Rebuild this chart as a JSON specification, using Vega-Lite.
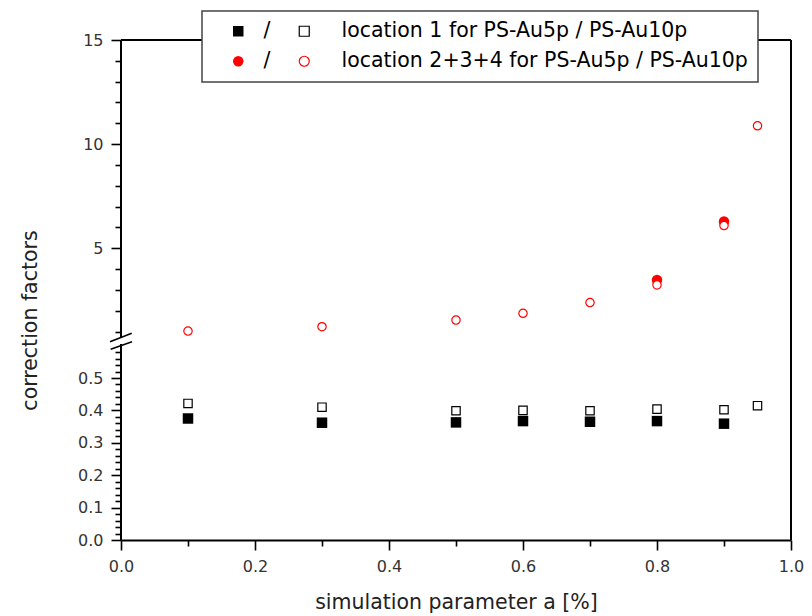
{
  "$schema": "https://vega.github.io/schema/vega-lite/v6.json",
  "width": 670,
  "height": 500,
  "autosize": {"type": "none"},
  "padding": {"left": 121, "top": 40, "right": 21, "bottom": 76},
  "background": "white",
  "config": {
    "view": {"stroke": null},
    "font": "DejaVu Sans",
    "legend": {"strokeWidth": 1.5}
  },
  "data": {
    "values": [
      {"a": 0.1, "cf": 0.375, "loc": "1", "sample": "5p", "label": "location 1 for PS-Au5p / PS-Au10p"},
      {"a": 0.3, "cf": 0.362, "loc": "1", "sample": "5p", "label": "location 1 for PS-Au5p / PS-Au10p"},
      {"a": 0.5, "cf": 0.363, "loc": "1", "sample": "5p", "label": "location 1 for PS-Au5p / PS-Au10p"},
      {"a": 0.6, "cf": 0.367, "loc": "1", "sample": "5p", "label": "location 1 for PS-Au5p / PS-Au10p"},
      {"a": 0.7, "cf": 0.365, "loc": "1", "sample": "5p", "label": "location 1 for PS-Au5p / PS-Au10p"},
      {"a": 0.8, "cf": 0.367, "loc": "1", "sample": "5p", "label": "location 1 for PS-Au5p / PS-Au10p"},
      {"a": 0.9, "cf": 0.359, "loc": "1", "sample": "5p", "label": "location 1 for PS-Au5p / PS-Au10p"},
      {"a": 0.8, "cf": 3.47, "loc": "2+3+4", "sample": "5p", "label": "location 2+3+4 for PS-Au5p / PS-Au10p"},
      {"a": 0.9, "cf": 6.28, "loc": "2+3+4", "sample": "5p", "label": "location 2+3+4 for PS-Au5p / PS-Au10p"},
      {"a": 0.1, "cf": 0.4215, "loc": "1", "sample": "10p", "label": "location 1 for PS-Au5p / PS-Au10p"},
      {"a": 0.3, "cf": 0.41, "loc": "1", "sample": "10p", "label": "location 1 for PS-Au5p / PS-Au10p"},
      {"a": 0.5, "cf": 0.399, "loc": "1", "sample": "10p", "label": "location 1 for PS-Au5p / PS-Au10p"},
      {"a": 0.6, "cf": 0.4, "loc": "1", "sample": "10p", "label": "location 1 for PS-Au5p / PS-Au10p"},
      {"a": 0.7, "cf": 0.399, "loc": "1", "sample": "10p", "label": "location 1 for PS-Au5p / PS-Au10p"},
      {"a": 0.8, "cf": 0.404, "loc": "1", "sample": "10p", "label": "location 1 for PS-Au5p / PS-Au10p"},
      {"a": 0.9, "cf": 0.402, "loc": "1", "sample": "10p", "label": "location 1 for PS-Au5p / PS-Au10p"},
      {"a": 0.95, "cf": 0.4145, "loc": "1", "sample": "10p", "label": "location 1 for PS-Au5p / PS-Au10p"},
      {"a": 0.1, "cf": 1.02, "loc": "2+3+4", "sample": "10p", "label": "location 2+3+4 for PS-Au5p / PS-Au10p"},
      {"a": 0.3, "cf": 1.23, "loc": "2+3+4", "sample": "10p", "label": "location 2+3+4 for PS-Au5p / PS-Au10p"},
      {"a": 0.5, "cf": 1.55, "loc": "2+3+4", "sample": "10p", "label": "location 2+3+4 for PS-Au5p / PS-Au10p"},
      {"a": 0.6, "cf": 1.875, "loc": "2+3+4", "sample": "10p", "label": "location 2+3+4 for PS-Au5p / PS-Au10p"},
      {"a": 0.7, "cf": 2.39, "loc": "2+3+4", "sample": "10p", "label": "location 2+3+4 for PS-Au5p / PS-Au10p"},
      {"a": 0.8, "cf": 3.24, "loc": "2+3+4", "sample": "10p", "label": "location 2+3+4 for PS-Au5p / PS-Au10p"},
      {"a": 0.9, "cf": 6.09, "loc": "2+3+4", "sample": "10p", "label": "location 2+3+4 for PS-Au5p / PS-Au10p"},
      {"a": 0.95, "cf": 10.88, "loc": "2+3+4", "sample": "10p", "label": "location 2+3+4 for PS-Au5p / PS-Au10p"}
    ]
  },
  "resolve": {
    "scale": {"shape": "independent"},
    "legend": {"shape": "independent", "color": "independent", "stroke": "independent"}
  },
  "layer": [
    {
      "transform": [{"filter": "datum.sample == '5p'"}],
      "mark": {"type": "point", "filled": true, "opacity": 1, "size": 110},
      "encoding": {
        "x": {
          "field": "a", "type": "quantitative",
          "scale": {"domain": [0, 1], "nice": false, "zero": false},
          "axis": {
            "title": "simulation parameter a [%]",
            "values": [0, 0.1, 0.2, 0.3, 0.4, 0.5, 0.6, 0.7, 0.8, 0.9, 1.0],
            "tickCount": 200,
            "labelExpr": "abs(datum.value*5 - round(datum.value*5)) < 1e-6 ? format(datum.value, '.1f') : ''",
            "tickSize": {"condition": {"test": "abs(datum.value*5 - round(datum.value*5)) < 1e-6", "value": 10}, "value": 6},
            "grid": false,
            "labelFlush": false,
            "labelOverlap": false,
            "labelPadding": 8,
            "labelFont": "DejaVu Sans",
            "labelFontSize": 16,
            "labelColor": "#333333",
            "domainColor": "black",
            "domainWidth": 2,
            "tickColor": "black",
            "tickWidth": 1.6,
            "titleFont": "DejaVu Sans",
            "titleFontSize": 20.5,
            "titleFontWeight": "normal",
            "titleColor": "#222222",
            "titleBaseline": "alphabetic",
            "titleY": 68
          }
        },
        "y": {
          "field": "cf", "type": "quantitative",
          "scale": {"domain": [0, 0.6, 1, 15], "range": [500, 305.6, 291.5, 0], "nice": false, "zero": false},
          "axis": {
            "title": "correction factors",
            "values": [0, 0.02, 0.04, 0.06, 0.08, 0.1, 0.12, 0.14, 0.16, 0.18, 0.2, 0.22, 0.24, 0.26, 0.28, 0.3, 0.32, 0.34, 0.36, 0.38, 0.4, 0.42, 0.44, 0.46, 0.48, 0.5, 0.52, 0.54, 0.56, 0.58, 1, 2, 3, 4, 5, 6, 7, 8, 9, 10, 11, 12, 13, 14, 15],
            "tickCount": 200,
            "labelExpr": "datum.value < 0.55 && abs(datum.value*10 - round(datum.value*10)) < 1e-6 ? format(datum.value, '.1f') : ((datum.value == 5 || datum.value == 10 || datum.value == 15) ? format(datum.value, 'd') : '')",
            "tickSize": {"condition": {"test": "(datum.value < 0.55 && abs(datum.value*10 - round(datum.value*10)) < 1e-6) || datum.value == 5 || datum.value == 10 || datum.value == 15", "value": 10}, "value": 6},
            "domain": false,
            "grid": false,
            "labelFlush": false,
            "labelOverlap": false,
            "labelPadding": 8,
            "labelFont": "DejaVu Sans",
            "labelFontSize": 16,
            "labelColor": "#333333",
            "tickColor": "black",
            "tickWidth": 1.6,
            "titleFont": "DejaVu Sans",
            "titleFontSize": 20.5,
            "titleFontWeight": "normal",
            "titleColor": "#222222",
            "titleBaseline": "alphabetic",
            "titleX": -85,
            "titleY": 280
          }
        },
        "shape": {
          "field": "loc", "type": "nominal",
          "scale": {"domain": ["1", "2+3+4"], "range": ["square", "circle"]}
        },
        "color": {
          "field": "loc", "type": "nominal",
          "scale": {"domain": ["1", "2+3+4"], "range": ["black", "#ff0000"]},
          "legend": {
            "orient": "none",
            "legendX": 107,
            "legendY": -19,
            "title": null,
            "padding": 0,
            "fillColor": null,
            "strokeColor": null,
            "symbolSize": 110,
            "labelExpr": "'/'",
            "labelFont": "DejaVu Sans",
            "labelFontSize": 20.5,
            "labelOffset": 15,
            "rowPadding": 9,
            "zindex": 3,
            "encode": {
              "labels": {"update": {"fill": {"signal": "datum.value == '1' ? 'black' : '#ff0000'"}}}
            }
          }
        }
      }
    },
    {
      "transform": [{"filter": "datum.sample == '10p'"}],
      "mark": {"type": "point", "filled": true, "fill": "white", "strokeWidth": 1.2, "opacity": 1, "size": 70},
      "encoding": {
        "x": {"field": "a", "type": "quantitative"},
        "y": {"field": "cf", "type": "quantitative"},
        "shape": {
          "field": "label", "type": "nominal",
          "scale": {"domain": ["location 1 for PS-Au5p / PS-Au10p", "location 2+3+4 for PS-Au5p / PS-Au10p"], "range": ["square", "circle"]}
        },
        "stroke": {
          "field": "label", "type": "nominal",
          "scale": {"domain": ["location 1 for PS-Au5p / PS-Au10p", "location 2+3+4 for PS-Au5p / PS-Au10p"], "range": ["black", "#ff0000"]},
          "legend": {
            "orient": "none",
            "legendX": 81,
            "legendY": -29,
            "title": null,
            "padding": 10,
            "fillColor": "white",
            "strokeColor": "#444444",
            "symbolSize": 100,
            "symbolOffset": 82,
            "symbolStrokeWidth": 1.2,
            "symbolFillColor": "white",
            "labelExpr": "datum.label + '                          '",
            "labelLimit": 1000,
            "labelFont": "DejaVu Sans",
            "labelFontSize": 20.5,
            "labelColor": "black",
            "labelOffset": 27,
            "rowPadding": 9,
            "zindex": 2
          }
        }
      }
    },
    {
      "data": {"values": [{}]},
      "mark": {"type": "rule", "color": "black", "strokeWidth": 2},
      "encoding": {"x": {"datum": 1}, "y": {"datum": 0}, "y2": {"datum": 15}}
    },
    {
      "data": {"values": [{}]},
      "mark": {"type": "rule", "color": "black", "strokeWidth": 2},
      "encoding": {"x": {"datum": 0}, "x2": {"datum": 1}, "y": {"datum": 15}}
    },
    {
      "data": {"values": [{}]},
      "mark": {"type": "rule", "color": "black", "strokeWidth": 2},
      "encoding": {"x": {"datum": 0}, "y": {"datum": 0.831}, "y2": {"datum": 15}}
    },
    {
      "data": {"values": [{}]},
      "mark": {"type": "rule", "color": "black", "strokeWidth": 2},
      "encoding": {"x": {"datum": 0}, "y": {"datum": 0}, "y2": {"datum": 0.648}}
    },
    {
      "data": {"values": [{}]},
      "mark": {"type": "rule", "color": "black", "strokeWidth": 1.6},
      "encoding": {"x": {"datum": -0.0164}, "x2": {"datum": 0.016}, "y": {"datum": 0.711}, "y2": {"datum": 0.949}}
    },
    {
      "data": {"values": [{}]},
      "mark": {"type": "rule", "color": "black", "strokeWidth": 1.6},
      "encoding": {"x": {"datum": -0.0154}, "x2": {"datum": 0.0164}, "y": {"datum": 0.5886}, "y2": {"datum": 0.711}}
    }
  ]
}
